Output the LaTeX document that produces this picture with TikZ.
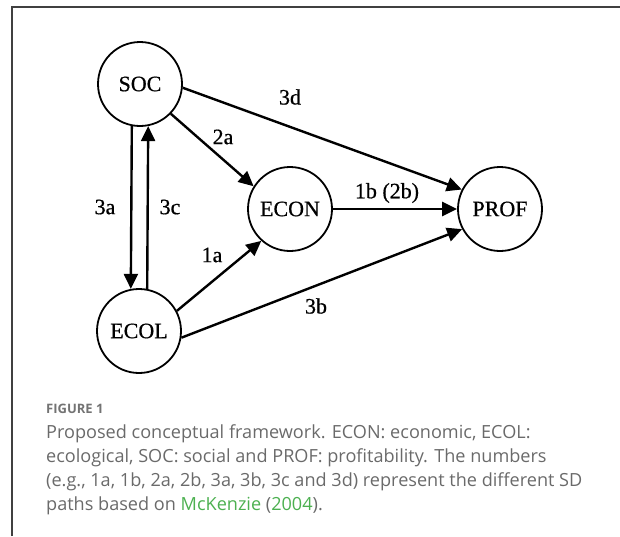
\documentclass[tikz,border=0pt]{standalone}
\usepackage{fontspec}
\setmainfont{Liberation Serif}
\newfontfamily\diafont[FakeBold=0.6]{Liberation Serif}
\newfontfamily\capfont{Open Sans}
\usetikzlibrary{arrows.meta}
\definecolor{capgrey}{HTML}{6A6A6A}
\definecolor{capgreen}{HTML}{4CB050}
\tikzset{
  var/.style={circle, draw, line width=1.8pt, minimum size=84pt, inner sep=0pt, font=\diafont\fontsize{22}{22}\selectfont},
  lab/.style={font=\diafont\fontsize{22}{22}\selectfont, inner sep=0pt},
  path/.style={line width=2.4pt, -{Triangle[length=15pt,width=14pt]}},
  captxt/.style={anchor=base west, inner sep=0pt, text=capgrey, font=\capfont\fontsize{18.1}{18.1}\selectfont},
  frame/.style={line width=1.5pt, draw=black!75}
}
\begin{document}
\begin{tikzpicture}[x=1pt,y=-1pt]
\useasboundingbox (0,0) rectangle (620,536);
\draw[frame] (12,536) coordinate (fb) -- (12,7) coordinate (fc) -- (620,7) coordinate (fr);
\node[var] (SOC) at (140,84) {SOC};
\node[var] (ECON) at (290,209) {ECON};
\node[var] (PROF) at (500,209) {PROF};
\node[var] (ECOL) at (139,331) {ECOL};
\draw[path] (SOC.-5) -- (PROF.153);
\draw[path] (SOC.-44) -- (ECON.148);
\draw[path] (SOC.-101) -- (ECOL.101);
\draw[path] (ECOL.79) -- (SOC.-79);
\draw[path] (ECOL.28) -- (ECON.228);
\draw[path] (ECOL.-9) -- (PROF.208);
\draw[path] (ECON.east) -- (PROF.west);
\node[lab] (l3d) at (290,97) {3d};
\node[lab] (l2a) at (223,137) {2a};
\node[lab] (l3a) at (105,207) {3a};
\node[lab] (l3c) at (170,207) {3c};
\node[lab] (l1a) at (212,255) {1a};
\node[lab] (l3b) at (316,306) {3b};
\node[lab] (l1b) at (387,193) {1b (2b)};
\node[captxt, text=black!55, font=\capfont\bfseries\fontsize{13}{13}\selectfont] (fig) at (46,413) {FIGURE 1};
\node[captxt] (c1) at (46,438) {Proposed conceptual framework. ECON: economic, ECOL:};
\node[captxt] (c2) at (46,462) {ecological, SOC: social and PROF: profitability. The numbers};
\node[captxt] (c3) at (46,486) {(e.g., 1a, 1b, 2a, 2b, 3a, 3b, 3c and 3d) represent the different SD};
\node[captxt] (c4) at (46,510) {paths based on \textcolor{capgreen}{McKenzie} (\textcolor{capgreen}{2004}).};
\end{tikzpicture}
\end{document}
